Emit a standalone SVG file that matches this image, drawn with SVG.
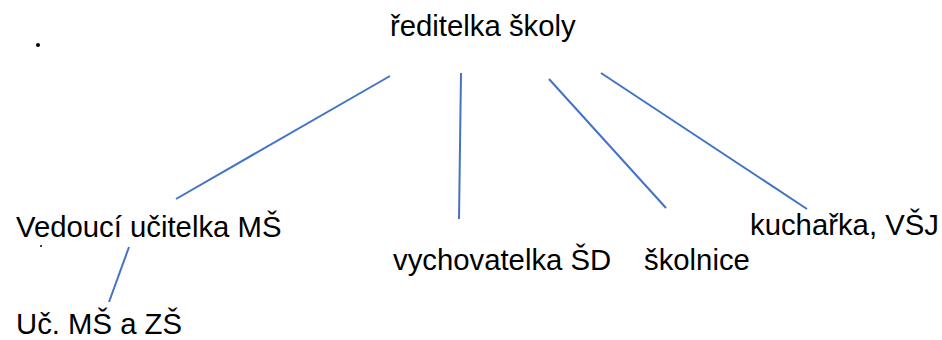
<svg xmlns="http://www.w3.org/2000/svg" width="942" height="340" viewBox="0 0 942 340">
<style>
text{font-family:"Liberation Sans",Arial,sans-serif;font-size:29.3px;fill:#000}
.c line{stroke:#4472C4;stroke-width:2;fill:none}
</style>
<rect width="942" height="340" fill="#fff"/>
<g class="c" id="connectors">
<line x1="390" y1="76" x2="176" y2="199"/>
<line x1="461" y1="73" x2="459" y2="219"/>
<line x1="549" y1="79" x2="666" y2="208"/>
<line x1="601" y1="73" x2="807" y2="209"/>
<line x1="129" y1="247" x2="109" y2="302"/>
</g>
<circle cx="38" cy="45" r="2" fill="#000"/>
<circle cx="41" cy="246" r="1" fill="#000"/>
<g id="n-reditelka"><text x="390" y="36">ředitelka školy</text></g>
<g id="n-vedouci"><text x="16" y="237">Vedoucí učitelka MŠ</text></g>
<g id="n-uc"><text x="16" y="334">Uč. MŠ a ZŠ</text></g>
<g id="n-vychovatelka"><text x="393" y="270">vychovatelka ŠD</text></g>
<g id="n-skolnice"><text x="644" y="270">školnice</text></g>
<g id="n-kucharka"><text x="750" y="235">kuchařka, VŠJ</text></g>
</svg>
